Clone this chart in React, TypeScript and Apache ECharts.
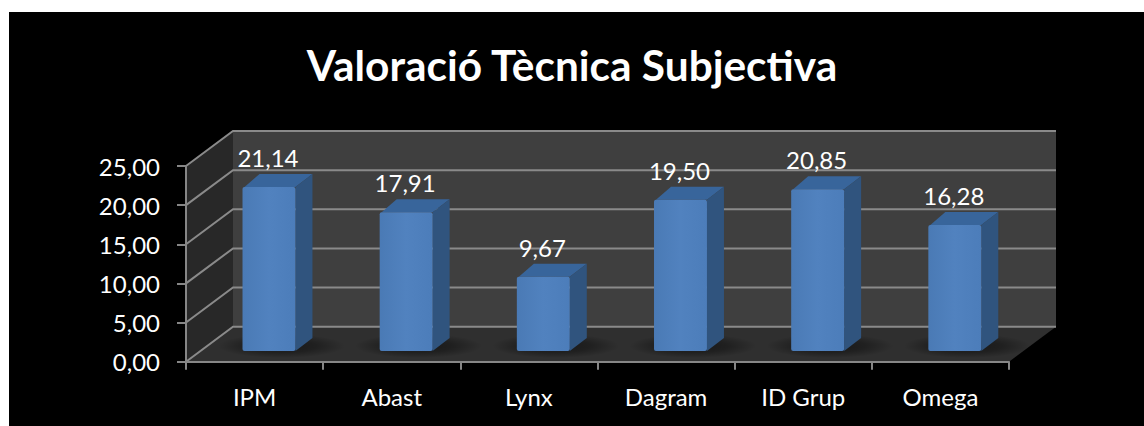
import React, { useEffect, useRef } from "react";
import * as echarts from "echarts";

const titleText = "Valoració Tècnica Subjectiva";
const categories = ["IPM", "Abast", "Lynx", "Dagram", "ID Grup", "Omega"];
const values = [21.14, 17.91, 9.67, 19.5, 20.85, 16.28];
const yTicks = [0, 5, 10, 15, 20, 25];

const FONT = "Lato";
const DEPTH_X = 47;
const DEPTH_Y = 35;
const BAR_DX = 14.4;
const BAR_DY = 10.7;
const BAR_SIDE_X = 17;
const BAR_SIDE_Y = 13;
const fmt = (v: number) => v.toFixed(2).replace(".", ",");

export default function App() {
  const ref = useRef<HTMLDivElement>(null);
  useEffect(() => {
    const chart = echarts.init(ref.current!, undefined, { renderer: "svg" });
    chart.setOption({
      animation: false,
      backgroundColor: "#000000",
      title: {
        text: titleText,
        left: 558,
        top: 26,
        textAlign: "center",
        textStyle: { color: "#ffffff", fontFamily: FONT, fontWeight: "bold", fontSize: 42.4 },
      },
      grid: { left: 177, top: 154, width: 823, height: 195.7 },
      xAxis: {
        type: "category",
        data: categories,
        axisLine: { lineStyle: { color: "#868686", width: 2 } },
        axisTick: { show: true, alignWithLabel: false, length: 8, lineStyle: { color: "#868686", width: 2 } },
        axisLabel: { color: "#ffffff", fontFamily: FONT, fontSize: 24, margin: 23 },
      },
      yAxis: {
        type: "value",
        min: 0,
        max: 25,
        interval: 5,
        splitLine: { show: false },
        axisLine: { show: true, lineStyle: { color: "#868686", width: 2 } },
        axisTick: { show: true, length: 9, lineStyle: { color: "#868686", width: 2 } },
        axisLabel: { color: "#ffffff", fontFamily: FONT, fontSize: 24, margin: 26, formatter: (v: number) => fmt(v) },
      },
      series: [
        {
          type: "custom",
          name: "walls",
          z: -1,
          silent: true,
          data: [0],
          renderItem: (params: any, api: any) => {
            const c = params.coordSys;
            const l = c.x, r = c.x + c.width, b = c.y + c.height, t = c.y;
            const line = { stroke: "#8a8a8a", lineWidth: 2 };
            const children: any[] = [
              { type: "polygon", shape: { points: [[l, b], [l, t], [l + DEPTH_X, t - DEPTH_Y], [l + DEPTH_X, b - DEPTH_Y]] }, style: { fill: "#282828" } },
              { type: "rect", shape: { x: l + DEPTH_X, y: t - DEPTH_Y, width: c.width, height: c.height }, style: { fill: "#3f3f3f" } },
              { type: "polygon", shape: { points: [[l, b], [r, b], [r + DEPTH_X, b - DEPTH_Y], [l + DEPTH_X, b - DEPTH_Y]] }, style: { fill: "#2f2f2f" } },
            ];
            yTicks.forEach((v) => {
              const y = api.coord([0, v])[1];
              children.push({ type: "polyline", shape: { points: [[l, y], [l + DEPTH_X, y - DEPTH_Y], [r + DEPTH_X, y - DEPTH_Y]] }, style: { ...line, fill: "none" } });
            });
            return { type: "group", children };
          },
        },
        {
          type: "custom",
          name: "bars",
          z: 2,
          silent: true,
          data: values.map((v, i) => [i, v]),
          encode: { x: 0, y: 1 },
          renderItem: (_params: any, api: any) => {
            const i = api.value(0), v = api.value(1);
            const band = api.size([1, 0])[0];
            const w = band * 0.386;
            const base = api.coord([i, 0]);
            const top = api.coord([i, v]);
            const x1 = base[0] + BAR_DX - w / 2;
            const x2 = x1 + w;
            const yb = base[1] - BAR_DY;
            const yt = top[1] - BAR_DY + 1.5;
            return {
              type: "group",
              children: [
                {
                  type: "ellipse",
                  shape: { cx: x2 - 14, cy: yb - 5, rx: w * 1.2, ry: 12 },
                  style: {
                    fill: new echarts.graphic.RadialGradient(0.5, 0.5, 0.5, [
                      { offset: 0, color: "rgba(0,0,0,0.5)" },
                      { offset: 0.55, color: "rgba(0,0,0,0.32)" },
                      { offset: 1, color: "rgba(0,0,0,0)" },
                    ]),
                  },
                },
                { type: "polygon", shape: { points: [[x1 + 2, yt], [x1 + BAR_SIDE_X, yt - BAR_SIDE_Y], [x2 + BAR_SIDE_X, yt - BAR_SIDE_Y], [x2, yt]] }, style: { fill: "#38659b" } },
                { type: "polygon", shape: { points: [[x2, yb], [x2 + BAR_SIDE_X, yb - BAR_SIDE_Y], [x2 + BAR_SIDE_X, yt - BAR_SIDE_Y], [x2, yt]] }, style: { fill: "#30547e" } },
                {
                  type: "rect",
                  shape: { x: x1, y: yt, width: w, height: yb - yt, r: 2 },
                  style: {
                    fill: new echarts.graphic.LinearGradient(0, 0, 1, 0, [
                      { offset: 0, color: "#4a7ab5" },
                      { offset: 0.5, color: "#5182bf" },
                      { offset: 1, color: "#4c7dba" },
                    ]),
                  },
                },
                {
                  type: "text",
                  style: {
                    text: fmt(v),
                    x: (x1 + x2) / 2 - 1,
                    y: yt - BAR_SIDE_Y - 16.5,
                    fill: "#ffffff",
                    font: `24px ${FONT}`,
                    textAlign: "center",
                    textVerticalAlign: "middle",
                  },
                },
              ],
            };
          },
        },
      ],
    });
    return () => chart.dispose();
  }, []);
  return <div ref={ref} style={{ position: "absolute", left: 9, top: 12, width: 1135, height: 414 }} />;
}
